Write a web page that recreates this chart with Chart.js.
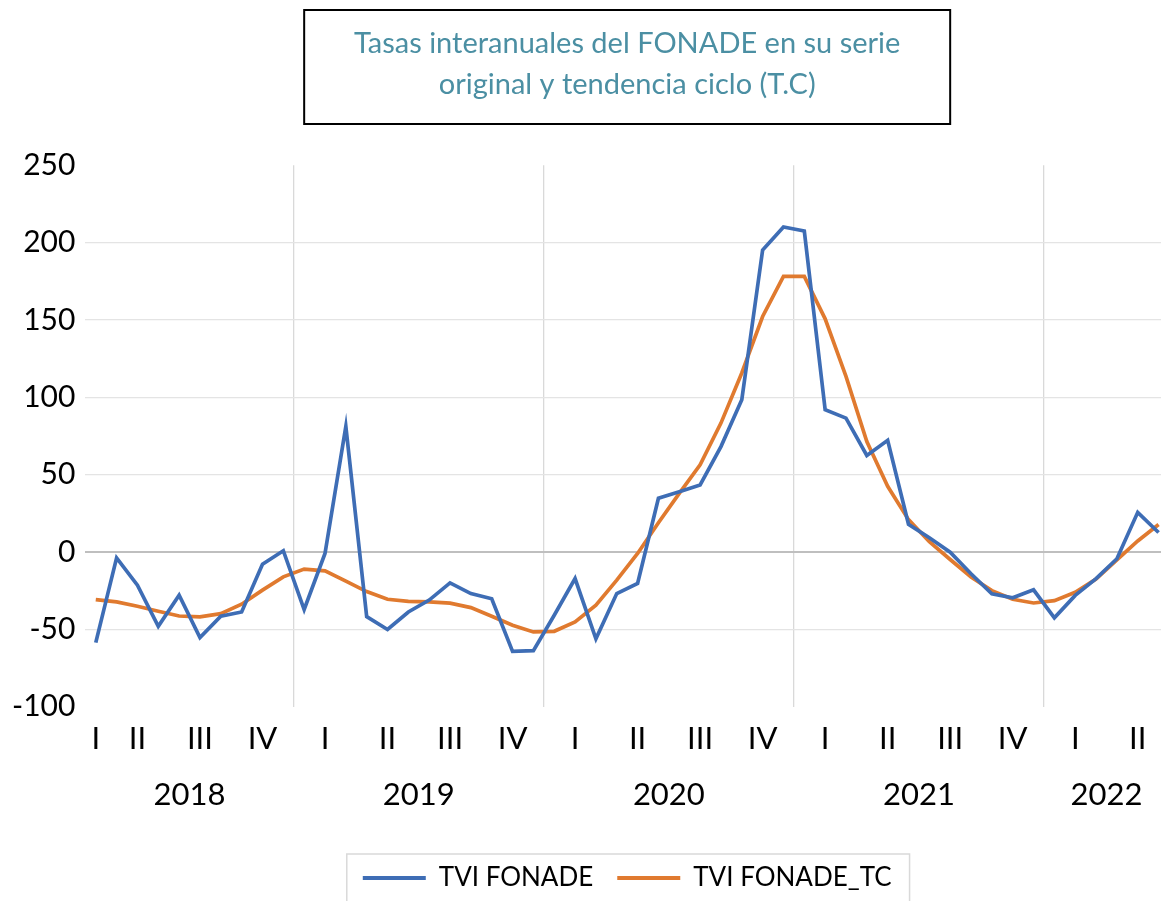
<!DOCTYPE html>
<html>
<head>
<meta charset="utf-8">
<script src="https://cdn.jsdelivr.net/npm/chart.js@4.4.0/dist/chart.umd.min.js"></script>
<style>
  html, body { margin: 0; padding: 0; background: #fff; overflow: hidden; }
  #wrap { position: absolute; left: 0; top: 0; width: 1190px; height: 901px; }
</style>
</head>
<body>
<div id="wrap"><canvas id="chartCanvas" width="1190" height="901"></canvas></div>
<script>
// months shown on the axis (mar 2018 - jun 2022)
const months = [
  '2018-03','2018-04','2018-05','2018-06','2018-07','2018-08','2018-09','2018-10','2018-11','2018-12',
  '2019-01','2019-02','2019-03','2019-04','2019-05','2019-06','2019-07','2019-08','2019-09','2019-10','2019-11','2019-12',
  '2020-01','2020-02','2020-03','2020-04','2020-05','2020-06','2020-07','2020-08','2020-09','2020-10','2020-11','2020-12',
  '2021-01','2021-02','2021-03','2021-04','2021-05','2021-06','2021-07','2021-08','2021-09','2021-10','2021-11','2021-12',
  '2022-01','2022-02','2022-03','2022-04','2022-05','2022-06'
];

const tviFonade = [
  -58.5, -3.7, -21.4, -48, -27.9, -55.3, -41.5, -38.7, -7.8, 0.9,
  -37.1, -0.9, 81.2, -41.7, -50, -38.7, -31, -19.9, -26.8, -30.2, -64.2, -63.7,
  -40.8, -17.1, -56, -26.8, -20.3, 34.8, 39, 43.4, 68.2, 98.5, 195.3, 210.2,
  207.6, 92, 86.6, 62.5, 72.3, 18, 9.3, 0, -14, -27, -29.5, -24.4,
  -42.5, -28, -17.2, -4.3, 25.7, 12.7
];

const tviFonadeTC = [
  -30.7, -32.2, -35, -38.2, -41.3, -41.9, -39.8, -33.7, -24.6, -16,
  -11, -12.1, -18.8, -25.5, -30.5, -31.8, -32.2, -33, -35.9, -41.5, -47.3, -51.6,
  -51.2, -45.2, -34.3, -18.1, -0.9, 19, 38, 56.4, 83.4, 115.8, 152.3, 178.2,
  178.2, 150.8, 113.6, 71.5, 42.5, 21, 6.7, -4.8, -16.1, -24.9, -30.5, -32.9,
  -31.4, -26, -17.4, -5, 7.2, 17.8
];

const quarterNames = ['I', 'II', 'III', 'IV'];
const yMin = -100, yMax = 250, yStep = 50;

const yearOf = m => m.slice(0, 4);
const quarterOf = m => Math.floor((parseInt(m.slice(5), 10) - 1) / 3);

// quarter label sits on the middle month of each quarter
const quarterTickText = months.map(() => '');
let start = 0;
for (let i = 1; i <= months.length; i++) {
  if (i === months.length || yearOf(months[i]) !== yearOf(months[start]) || quarterOf(months[i]) !== quarterOf(months[start])) {
    quarterTickText[Math.floor((start + i - 1) / 2)] = quarterNames[quarterOf(months[start])];
    start = i;
  }
}

const years = [...new Set(months.map(yearOf))];
const yearCenters = years.map(y => {
  const idx = months.map((m, i) => yearOf(m) === y ? i : -1).filter(i => i >= 0);
  return (idx[0] + idx[idx.length - 1]) / 2;
});
const isYearStart = months.map((m, i) => i > 0 && yearOf(m) !== yearOf(months[i - 1]));

const FONT = 'Lato';

const frames = {
  id: 'frames',
  afterDraw(chart) {
    const ctx = chart.ctx;
    const t = chart.titleBlock;
    const cx = t.left + t.width / 2;
    ctx.save();
    ctx.strokeStyle = '#000';
    ctx.lineWidth = 2;
    ctx.strokeRect(cx - 323, t.top + 10, 646, 114);

    const boxes = chart.legend.legendHitBoxes;
    const l = Math.min(...boxes.map(b => b.left));
    const r = Math.max(...boxes.map(b => b.left + b.width));
    const cy = boxes[0].top + boxes[0].height / 2;
    ctx.strokeStyle = '#D9D9D9';
    ctx.lineWidth = 1.5;
    ctx.strokeRect(l - 16, cy - 24, r - l + 34, 80);
    ctx.restore();
  }
};

const ctx = document.getElementById('chartCanvas').getContext('2d');
new Chart(ctx, {
  type: 'line',
  data: {
    labels: months,
    datasets: [
      {
        label: 'TVI FONADE',
        data: tviFonade,
        borderColor: '#3E6DB5',
        backgroundColor: '#3E6DB5',
        borderWidth: 3.7,
        pointRadius: 0,
        tension: 0,
        fill: false
      },
      {
        label: 'TVI FONADE_TC',
        data: tviFonadeTC,
        borderColor: '#E07A2F',
        backgroundColor: '#E07A2F',
        borderWidth: 3.7,
        pointRadius: 0,
        tension: 0,
        fill: false
      }
    ]
  },
  options: {
    responsive: false,
    animation: false,
    layout: { padding: { left: 2, right: 21, top: 0, bottom: 0 } },
    scales: {
      x: {
        type: 'category',
        offset: true,
        weight: 0,
        grid: {
          offset: true,
          drawTicks: false,
          color: c => isYearStart[c.index] ? '#D9D9D9' : 'rgba(0,0,0,0)',
          lineWidth: 1.3
        },
        border: { display: false },
        ticks: {
          autoSkip: false,
          maxRotation: 0,
          minRotation: 0,
          padding: 14,
          color: '#000',
          font: { family: FONT, size: 31 },
          callback: (v, i) => quarterTickText[i]
        }
      },
      x2: {
        type: 'linear',
        position: 'bottom',
        weight: 1,
        min: -0.5,
        max: months.length - 0.5,
        grid: { display: false, drawTicks: false },
        border: { display: false },
        afterBuildTicks: axis => { axis.ticks = yearCenters.map(v => ({ value: v })); },
        afterFit: axis => { axis.height = 69; },
        ticks: {
          autoSkip: false,
          maxRotation: 0,
          minRotation: 0,
          padding: 4,
          color: '#000',
          font: { family: FONT, size: 31 },
          callback: (v, i) => years[i]
        }
      },
      y: {
        min: yMin,
        max: yMax,
        grid: {
          drawTicks: false,
          color: c => (c.tick.value === yMin || c.tick.value === yMax) ? 'rgba(0,0,0,0)' : (c.tick.value === 0 ? '#BFBFBF' : '#E4E4E4'),
          lineWidth: c => c.tick.value === 0 ? 2 : 1.3
        },
        border: { display: false },
        ticks: {
          stepSize: yStep,
          padding: 10,
          color: '#000',
          font: { family: FONT, size: 30 }
        }
      }
    },
    plugins: {
      title: {
        display: true,
        fullSize: false,
        text: ['Tasas interanuales del FONADE en su serie', 'original y tendencia ciclo (T.C)'],
        color: '#4B8FA3',
        font: { family: FONT, size: 29, weight: 'normal', lineHeight: 1.42 },
        padding: { top: 23, bottom: 60 }
      },
      legend: {
        position: 'bottom',
        fullSize: false,
        labels: {
          boxWidth: 63,
          boxHeight: 4,
          padding: 24,
          color: '#000',
          font: { family: FONT, size: 26, lineHeight: 1 },
          generateLabels: chart => Chart.defaults.plugins.legend.labels.generateLabels(chart).map(l => ({ ...l, lineWidth: 0 }))
        }
      },
      tooltip: { enabled: false }
    }
  },
  plugins: [frames]
});
</script>
</body>
</html>
